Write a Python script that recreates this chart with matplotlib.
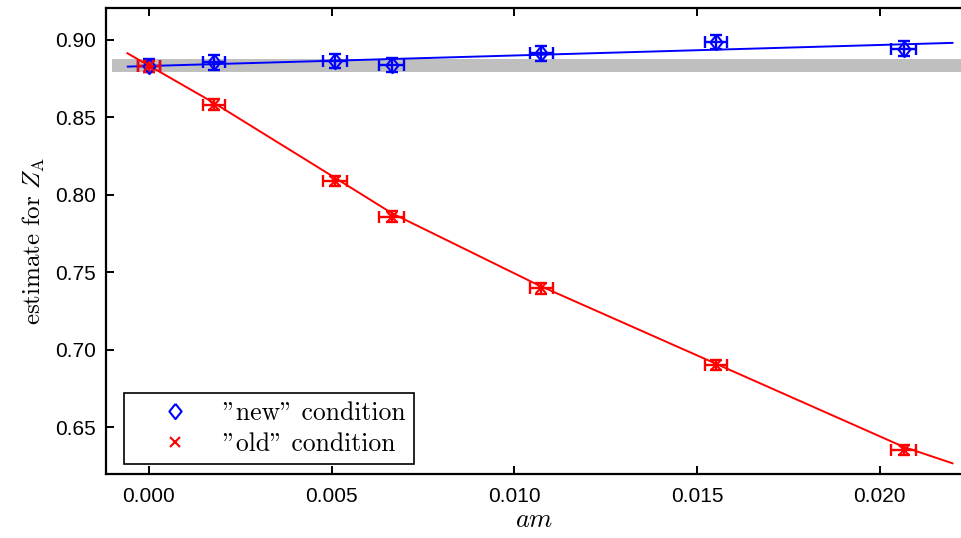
import matplotlib
matplotlib.use("Agg")
import matplotlib.pyplot as plt

plt.rcParams["mathtext.fontset"] = "cm"
plt.rcParams["font.family"] = ["Liberation Sans", "DejaVu Sans"]

# lattice data: mass values and Z_A estimates
am = [0.0, 0.00179, 0.0051, 0.00664, 0.01074, 0.01551, 0.02065]
am_err = [0.0003, 0.0003, 0.00033, 0.00035, 0.00032, 0.0003, 0.00034]

za_new = [0.8834, 0.8856, 0.8865, 0.8839, 0.8913, 0.8985, 0.8942]
za_new_err = [0.0040, 0.0050, 0.0044, 0.0045, 0.0050, 0.0044, 0.0048]

za_old = [0.8830, 0.8581, 0.8090, 0.7860, 0.7398, 0.6903, 0.6355]
za_old_err = [0.0035, 0.0035, 0.0035, 0.0035, 0.0035, 0.0035, 0.0035]

# fit curves
fit_new_x = [-0.00058, 0.02199]
fit_new_y = [0.8828, 0.8981]
fit_old_x = [-0.00059, 0.00179, 0.00511, 0.00665, 0.01065, 0.01549, 0.02066, 0.02199]
fit_old_y = [0.8914, 0.8592, 0.8108, 0.7882, 0.7419, 0.6914, 0.6374, 0.6269]

# chirally extrapolated band
band_x = [-0.00101, 0.0225]
band_lo, band_hi = 0.8790, 0.8875

# cmr10 puts the closing double quote glyph at the '"' code point
leg_labels = ['"new" condition', '"old" condition']

# slightly narrow diamond, taller than wide
diamond = [(0, 1), (0.8, 0), (0, -1), (-0.8, 0), (0, 1)]

fig = plt.figure(figsize=(9.61, 5.38), dpi=100)
ax = fig.add_axes([106 / 961, 1 - 474 / 538, 856 / 961, 466 / 538])

ax.fill_between(band_x, band_lo, band_hi, color="#bfbfbf", lw=0, zorder=1)

ax.plot(fit_new_x, fit_new_y, color="blue", lw=1.4, zorder=2)
ax.plot(fit_old_x, fit_old_y, color="red", lw=1.4, zorder=2)

ax.errorbar(am, za_new, xerr=am_err, yerr=za_new_err, fmt="none",
            ecolor="blue", elinewidth=1.7, capsize=4.5, capthick=1.7, zorder=3)
m_new, = ax.plot(am, za_new, ls="none", marker=diamond, ms=11, mfc="none",
                 mec="blue", mew=1.5, zorder=4)
ax.errorbar(am, za_old, xerr=am_err, yerr=za_old_err, fmt="none",
            ecolor="red", elinewidth=1.7, capsize=4.5, capthick=1.7, zorder=3)
m_old, = ax.plot(am, za_old, ls="none", marker="x", ms=7, mec="red", mew=1.5,
                 zorder=4)

ax.set_xlim(-0.001176, 0.02225)
ax.set_ylim(0.6200, 0.9206)
ax.set_xticks([0.0, 0.005, 0.010, 0.015, 0.020])
ax.set_xticklabels(["0.000", "0.005", "0.010", "0.015", "0.020"])
ax.set_yticks([0.65, 0.70, 0.75, 0.80, 0.85, 0.90])
ax.set_yticklabels(["0.65", "0.70", "0.75", "0.80", "0.85", "0.90"])

for s in ["left", "bottom", "top"]:
    ax.spines[s].set_linewidth(1.6)
ax.spines["right"].set_visible(False)
ax.tick_params(direction="in", length=6, width=1.4, labelsize=15,
               top=True, right=False)
ax.tick_params(axis="x", pad=9)
ax.tick_params(axis="y", pad=7)

ax.set_xlabel(r"$am$", fontsize=19, labelpad=2)
ax.set_ylabel(r"$\mathrm{estimate\ for}\ Z_\mathrm{A}$", fontsize=18, labelpad=6)

leg = ax.legend([m_new, m_old], leg_labels, loc="lower left",
                bbox_to_anchor=(0.021, 0.022),
                fancybox=False, framealpha=1, edgecolor="black",
                prop={"family": "cmr10", "size": 18.5},
                handlelength=3.35, handletextpad=0.2, borderpad=0.32,
                labelspacing=0.25, borderaxespad=0)
leg.get_frame().set_linewidth(1.2)

fig.savefig("out.png", dpi=100)
